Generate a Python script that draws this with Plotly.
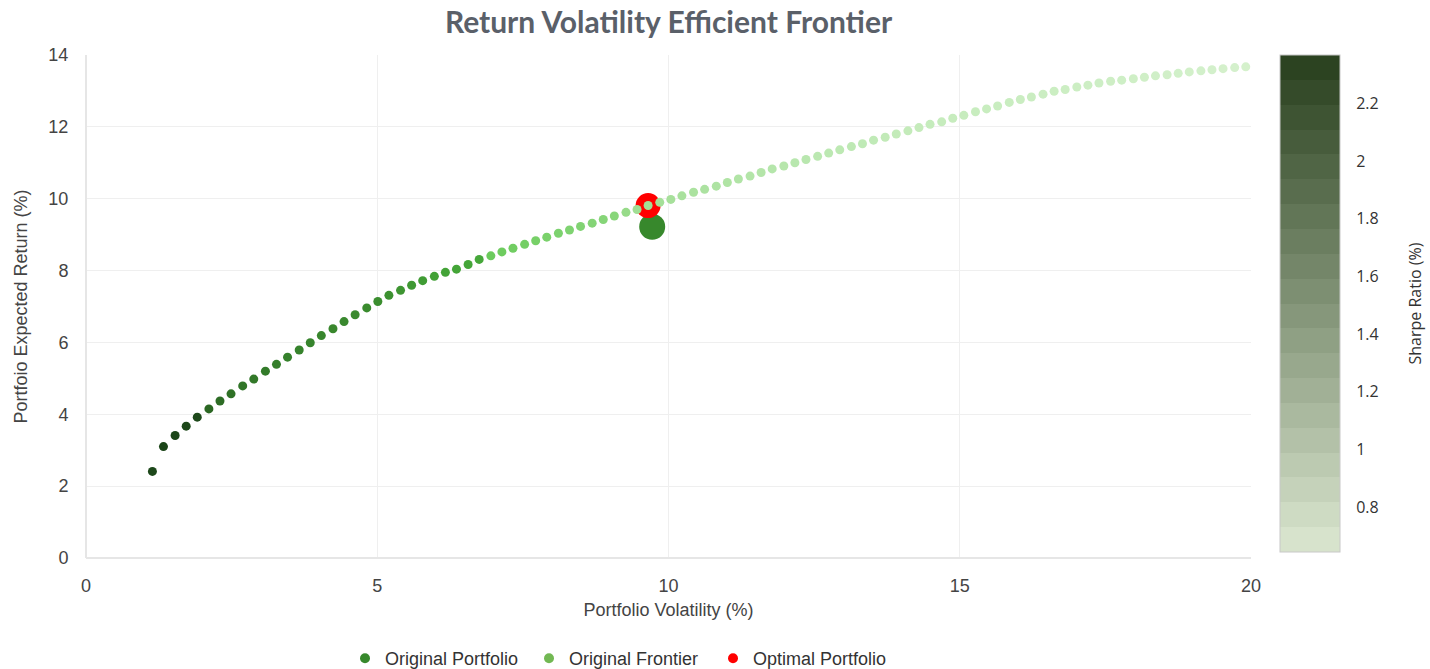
import plotly.graph_objects as go

# ---------------- data ----------------
frontier_vol = [1.14, 1.33, 1.53, 1.72, 1.91, 2.11, 2.30, 2.49, 2.69, 2.88,
                3.08, 3.27, 3.46, 3.66, 3.85, 4.04, 4.24, 4.43, 4.62, 4.82,
                5.01, 5.20, 5.40, 5.59, 5.78, 5.98, 6.17, 6.36, 6.56, 6.75,
                6.95, 7.14, 7.33, 7.53, 7.72, 7.91, 8.11, 8.30, 8.49, 8.69,
                8.88, 9.07, 9.27, 9.46, 9.65, 9.85, 10.04, 10.23, 10.43, 10.62,
                10.82, 11.01, 11.20, 11.40, 11.59, 11.78, 11.98, 12.17, 12.36, 12.56,
                12.75, 12.94, 13.14, 13.33, 13.52, 13.72, 13.91, 14.11, 14.30, 14.49,
                14.69, 14.88, 15.07, 15.27, 15.46, 15.65, 15.85, 16.04, 16.23, 16.43,
                16.62, 16.81, 17.01, 17.20, 17.39, 17.59, 17.78, 17.98, 18.17, 18.36,
                18.56, 18.75, 18.94, 19.14, 19.33, 19.52, 19.72, 19.91]
frontier_ret = [2.41, 3.10, 3.41, 3.67, 3.92, 4.15, 4.37, 4.57, 4.79, 4.98,
                5.20, 5.39, 5.59, 5.79, 5.99, 6.19, 6.38, 6.58, 6.77, 6.96,
                7.14, 7.31, 7.45, 7.59, 7.72, 7.84, 7.95, 8.04, 8.17, 8.31,
                8.41, 8.52, 8.62, 8.73, 8.83, 8.93, 9.04, 9.13, 9.23, 9.32,
                9.42, 9.52, 9.62, 9.70, 9.81, 9.90, 9.98, 10.08, 10.18, 10.26,
                10.35, 10.45, 10.55, 10.63, 10.73, 10.83, 10.91, 11.00, 11.09, 11.18,
                11.27, 11.36, 11.45, 11.53, 11.63, 11.71, 11.80, 11.89, 11.98, 12.07,
                12.14, 12.24, 12.32, 12.42, 12.50, 12.58, 12.68, 12.76, 12.83, 12.91,
                12.99, 13.04, 13.11, 13.16, 13.22, 13.27, 13.30, 13.34, 13.38, 13.42,
                13.45, 13.49, 13.53, 13.56, 13.59, 13.62, 13.65, 13.67]
frontier_sharpe = [r / v for r, v in zip(frontier_ret, frontier_vol)]

original_vol = [9.72]
original_ret = [9.22]
optimal_vol = [9.65]
optimal_ret = [9.81]

sharpe_min = 0.644
sharpe_max = 2.368

x_ticks = [0, 5, 10, 15, 20]
y_ticks = [0, 2, 4, 6, 8, 10, 12, 14]
cbar_ticks = [0.8, 1.0, 1.2, 1.4, 1.6, 1.8, 2.0, 2.2]
cbar_ticktext = ["0.8", "1", "1.2", "1.4", "1.6", "1.8", "2", "2.2"]

legend_names = ["Original Portfolio", "Original Frontier", "Optimal Portfolio"]
legend_colors = ["#37882c", "#72b853", "#ff0000"]

# ---------------- styles ----------------
AXIS_FONT = "Arial, 'Liberation Sans', sans-serif"
PLOT_L, PLOT_R = 86, 1251   # plot area edges on screen
W, H = 1430, 669


def sv(s):
    return (s - sharpe_min) / (sharpe_max - sharpe_min)


point_scale = [
    [0.0, "#d9f2d1"],
    [sv(0.83), "#c6ecbd"],
    [sv(1.00), "#a6e09a"],
    [sv(1.03), "#a0de93"],
    [sv(1.05), "#88d67a"],
    [sv(1.21), "#6bcb5c"],
    [sv(1.222), "#46a83a"],
    [sv(1.30), "#42a236"],
    [sv(1.45), "#3a8a2e"],
    [sv(1.60), "#36822c"],
    [sv(1.98), "#2b6623"],
    [sv(2.0), "#1e4a1b"],
    [1.0, "#1b4418"],
]

# discrete colour bar (20 bands)
c_lo = (0xd7, 0xe3, 0xcc)
c_hi = (0x2c, 0x43, 0x21)
nb = 20
bar_scale = []
for k in range(nb):
    f = k / (nb - 1)
    col = "rgb(%d,%d,%d)" % tuple(round(c_lo[i] + (c_hi[i] - c_lo[i]) * f) for i in range(3))
    bar_scale.append([k / nb, col])
    bar_scale.append([(k + 1) / nb, col])


def px_to_paper_x(px):
    return (px - PLOT_L) / (PLOT_R - PLOT_L)


fig = go.Figure()

# real marks (no legend entries)
fig.add_trace(go.Scatter(
    x=original_vol, y=original_ret, mode="markers", name=legend_names[0],
    showlegend=False, marker=dict(size=26, color=legend_colors[0]),
))
fig.add_trace(go.Scatter(
    x=optimal_vol, y=optimal_ret, mode="markers", name=legend_names[2],
    showlegend=False, marker=dict(size=25, color=legend_colors[2]),
))
# colour bar carrier (invisible markers)
fig.add_trace(go.Scatter(
    x=frontier_vol, y=frontier_ret, mode="markers", showlegend=False, hoverinfo="skip",
    marker=dict(size=9, color=frontier_sharpe, colorscale=bar_scale,
                cmin=sharpe_min, cmax=sharpe_max, opacity=0,
                showscale=True,
                colorbar=dict(
                    tickvals=cbar_ticks, ticktext=cbar_ticktext,
                    tickfont=dict(family="Open Sans", size=16, color="#333"),
                    thickness=60, thicknessmode="pixels",
                    len=497, lenmode="pixels",
                    y=0.506, yanchor="middle", ypad=0,
                    x=px_to_paper_x(1280), xanchor="left", xpad=0,
                    outlinecolor="#c8c8c8", outlinewidth=1,
                    ticks="outside", ticklen=13, tickcolor="rgba(0,0,0,0)",
                )),
))
fig.add_trace(go.Scatter(
    x=frontier_vol, y=frontier_ret, mode="markers", name=legend_names[1],
    showlegend=False,
    marker=dict(size=9, color=frontier_sharpe, colorscale=point_scale,
                cmin=sharpe_min, cmax=sharpe_max, showscale=False),
))
# legend entries
for nm, colr in zip(legend_names, legend_colors):
    fig.add_trace(go.Scatter(x=[None], y=[None], mode="markers", name=nm,
                             marker=dict(size=10, color=colr)))

fig.add_annotation(
    text="Sharpe Ratio (%)", textangle=-90, showarrow=False,
    xref="paper", yref="paper", x=px_to_paper_x(1415), y=0.506,
    xanchor="center", yanchor="middle",
    font=dict(family="Open Sans", size=16, color="#333"),
)

fig.update_layout(
    width=W, height=H,
    paper_bgcolor="white", plot_bgcolor="white",
    margin=dict(l=PLOT_L, r=W - PLOT_R, t=55, b=H - 558, autoexpand=False),
    title=dict(text="<b>Return Volatility Efficient Frontier</b>",
               x=0.5, xref="paper", xanchor="center", y=1 - 22 / H, yanchor="middle",
               font=dict(family="Lato", size=30, color="#5a6069")),
    font=dict(family=AXIS_FONT, size=18, color="#444"),
    legend=dict(orientation="h", x=px_to_paper_x(345), xanchor="left",
                y=-0.2, yanchor="middle", entrywidth=139,
                font=dict(family=AXIS_FONT, size=18, color="#333")),
    xaxis=dict(range=[0, 20], tickvals=x_ticks, showgrid=True, gridcolor="#efefef",
               zeroline=True, zerolinecolor="#e6e6e6", zerolinewidth=2,
               showline=False, ticks="outside", ticklen=11, tickcolor="rgba(0,0,0,0)",
               title=dict(text="Portfolio Volatility (%)", standoff=8,
                          font=dict(size=18, color="#444")),
               tickfont=dict(size=18, color="#444")),
    yaxis=dict(range=[0, 14], tickvals=y_ticks, showgrid=True, gridcolor="#efefef",
               zeroline=True, zerolinecolor="#e6e6e6", zerolinewidth=2,
               showline=False, ticks="outside", ticklen=13, tickcolor="rgba(0,0,0,0)",
               title=dict(text="Portfoio Expected Return (%)", standoff=16,
                          font=dict(size=18, color="#444")),
               tickfont=dict(size=18, color="#444")),
)

fig.write_html("out.html", config={"displayModeBar": False},
               post_script="document.body.style.margin='0';document.body.style.overflow='hidden';")
